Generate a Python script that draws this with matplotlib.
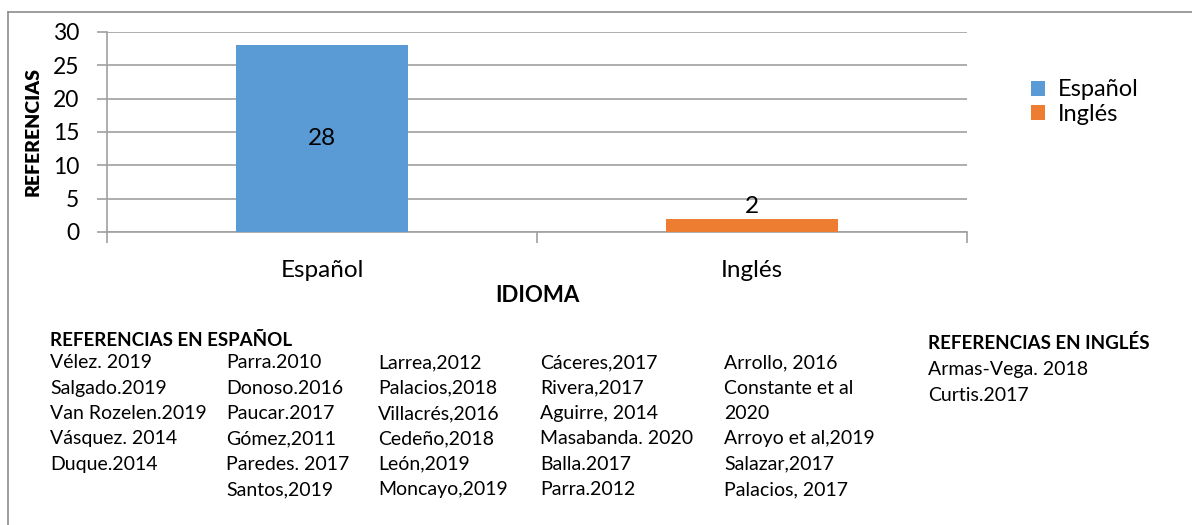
import matplotlib.pyplot as plt
from matplotlib.lines import Line2D

plt.rcParams['font.family'] = ['Lato', 'DejaVu Sans']

idiomas = ["Español", "Inglés"]
referencias = [28, 2]
colores = ["#5B9BD5", "#ED7D31"]

refs_es = [
    ["Vélez. 2019", "Salgado.2019", "Van Rozelen.2019", "Vásquez. 2014", "Duque.2014"],
    ["Parra.2010", "Donoso.2016", "Paucar.2017", "Gómez,2011", "Paredes. 2017", "Santos,2019"],
    ["Larrea,2012", "Palacios,2018", "Villacrés,2016", "Cedeño,2018", "León,2019", "Moncayo,2019"],
    ["Cáceres,2017", "Rivera,2017", "Aguirre, 2014", "Masabanda. 2020", "Balla.2017", "Parra.2012"],
    ["Arrollo, 2016", "Constante et al", "2020", "Arroyo et al,2019", "Salazar,2017", "Palacios, 2017"],
]
refs_en = ["Armas-Vega. 2018", "Curtis.2017"]

W, H = 1192, 525
fig = plt.figure(figsize=(W / 100, H / 100), dpi=100)
ax = fig.add_axes([107 / W, 1 - 232 / H, 860 / W, 200 / H])

x = range(len(idiomas))
bars = ax.bar(x, referencias, width=0.4, color=colores, label=idiomas, zorder=3)
ax.set_xlim(-0.5, 1.5)
ax.set_ylim(0, 30)
ax.set_yticks(range(0, 31, 5))
ax.yaxis.grid(True, color="#A0A0A0", linewidth=1.2, zorder=0)
for s in ["top", "right"]:
    ax.spines[s].set_visible(False)
for s in ["left", "bottom"]:
    ax.spines[s].set_color("#A0A0A0")
    ax.spines[s].set_linewidth(1.2)
ax.set_xticks([-0.5, 0.5, 1.5])
ax.set_xticklabels([])
ax.set_xticks(list(x), minor=True)
ax.set_xticklabels(idiomas, minor=True, fontsize=17.5)
ax.tick_params(axis="x", which="major", length=8, color="#A0A0A0", width=1.2)
ax.tick_params(axis="x", which="minor", length=0, pad=20)
ax.tick_params(axis="y", length=7, color="#A0A0A0", width=1.2, labelsize=16.5, pad=13)

ax.text(0, 14, "28", ha="center", va="center", fontsize=17.5)
ax.text(1, referencias[1] + 0.2, "2", ha="center", va="bottom", fontsize=17.5)

ax.set_ylabel("REFERENCIAS", fontsize=14, fontweight="heavy")
ax.yaxis.set_label_coords(-65 / 860, 0.5)
ax.set_xlabel("IDIOMA", fontsize=16, fontweight="bold")
ax.xaxis.set_label_coords(0.5, -53 / 200)

ax.legend(handles=bars, labels=idiomas, loc="upper left", bbox_to_anchor=(1.063, 0.81),
          frameon=False, fontsize=17, handlelength=0.6, handleheight=0.6,
          handletextpad=0.55, labelspacing=0.15, borderaxespad=0)


def ft(px, py, s, **kw):
    fig.text(px / W, 1 - py / H, s, va="center", ha="left", **kw)


ft(50, 340, "REFERENCIAS EN ESPAÑOL", fontsize=13.5, fontweight="bold")
col_x = [50, 226, 378, 540, 724]
for cx, col in zip(col_x, refs_es):
    for i, r in enumerate(col):
        ft(cx, 363 + i * 25.3, r, fontsize=14)
ft(928, 343, "REFERENCIAS EN INGLÉS", fontsize=13.5, fontweight="bold")
for i, r in enumerate(refs_en):
    ft(928, 370 + i * 25.3, r, fontsize=14)

fig.add_artist(Line2D([8 / W, 1], [1 - 12 / H, 1 - 12 / H], color="#8C8C8C", lw=1.2))
fig.add_artist(Line2D([8 / W, 8 / W], [0, 1 - 12 / H], color="#8C8C8C", lw=1.2))

fig.savefig("out.png", dpi=100)
